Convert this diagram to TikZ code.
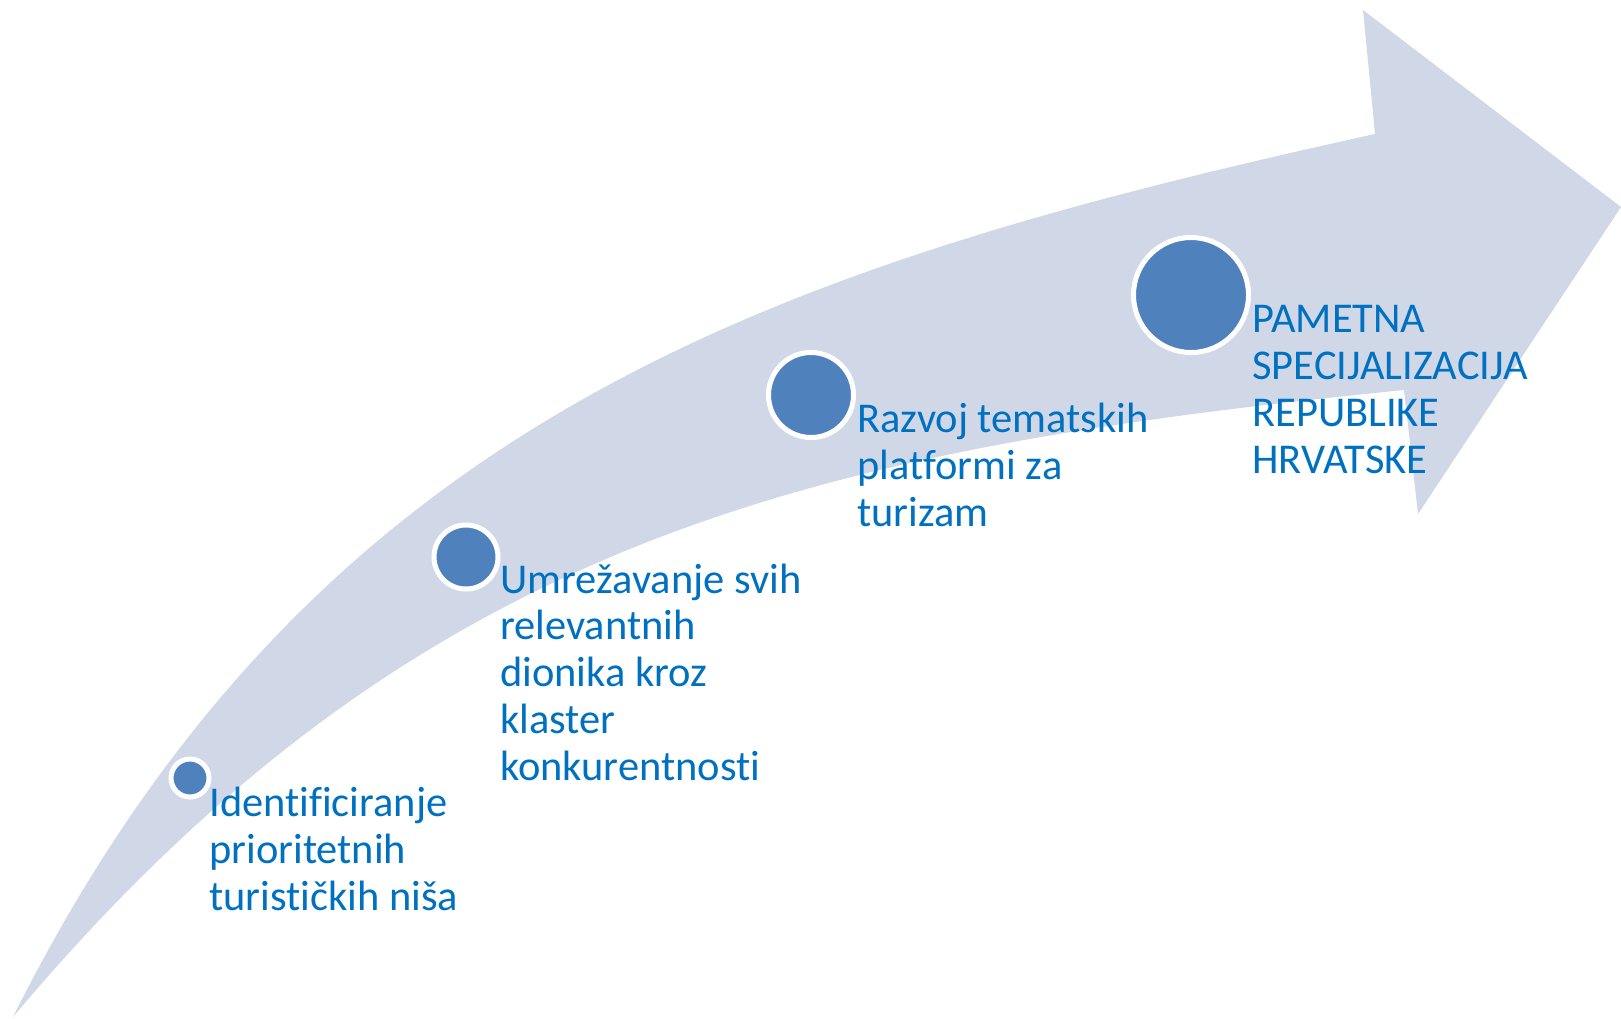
\documentclass[tikz,border=0pt]{standalone}
\usepackage{fontspec}
\setmainfont{Carlito}[Ligatures=CommonOff]
\newdimen\pxu \pxu=0.02cm
\definecolor{bandfill}{HTML}{D0D8E8}
\definecolor{dotfill}{HTML}{4F81BD}
\definecolor{labelblue}{HTML}{0070C0}
\begin{document}
\begin{tikzpicture}[x=0.02cm,y=-0.02cm,
  dot/.style={circle,fill=dotfill,draw=white,line width=5\pxu,inner sep=0pt},
  label/.style={anchor=base west,inner sep=0pt,align=left,text=labelblue,
    font=\fontsize{24.15}{26.6}\selectfont}]
\useasboundingbox[fill=white] (0,0) rectangle (1621,1018);
% curved arrow
\fill[bandfill] (13,1017) .. controls (313,417) and (775,266) .. (1375,134)
  -- (1363,10) -- (1621,207) -- (1418,514) -- (1404,390)
  .. controls (804,450) and (413,541) .. (13,1017) -- cycle;
% dots
\node[dot,minimum size=38\pxu]  (d1) at (190,778) {};
\node[dot,minimum size=64\pxu]  (d2) at (466,557) {};
\node[dot,minimum size=85\pxu]  (d3) at (811,395) {};
\node[dot,minimum size=115\pxu] (d4) at (1191,295) {};
% labels (anchored at the baseline of their last line)
\node[label] (t1) at (209,910) {Identificiranje\\prioritetnih\\turističkih niša};
\node[label] (t2) at (500,780) {Umrežavanje svih\\relevantnih\\dionika kroz\\klaster\\konkurentnosti};
\node[label] (t3) at (857,526) {Razvoj tematskih\\platformi za\\turizam};
\node[label] (t4) at (1252,473) {PAMETNA\\SPECIJALIZACIJA\\REPUBLIKE\\HRVATSKE};
\end{tikzpicture}
\end{document}
